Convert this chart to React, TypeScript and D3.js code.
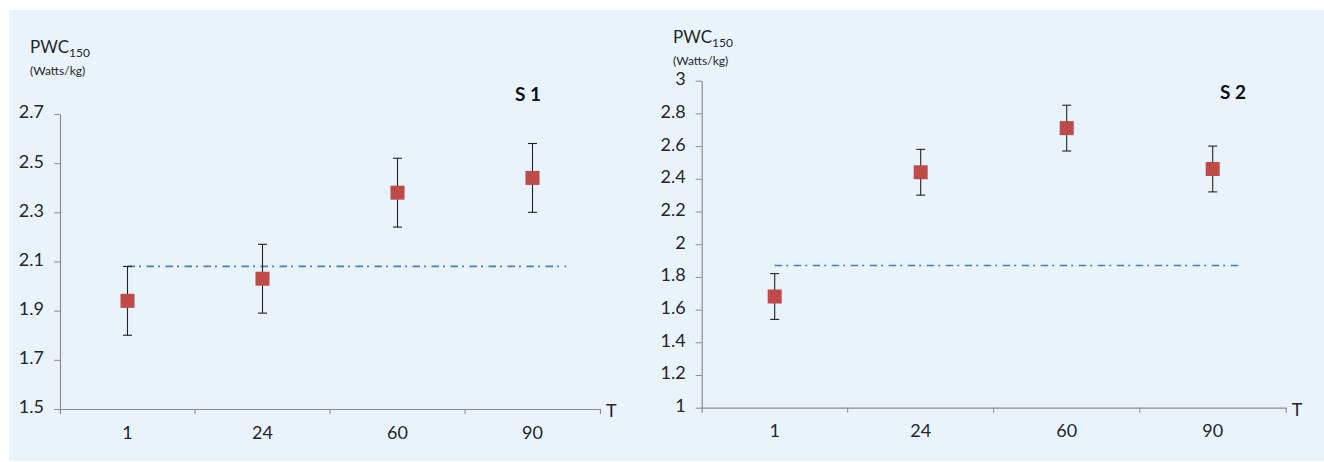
import React, { useEffect, useRef } from "react";
import * as d3 from "d3";

// time points (T) shared by both panels
const timePoints = ["1", "24", "60", "90"];

// S 1
const s1Means = [1.94, 2.03, 2.38, 2.44];
const s1Errors = [0.14, 0.14, 0.14, 0.14];
const s1Baseline = 2.08;
const s1Ticks = [1.5, 1.7, 1.9, 2.1, 2.3, 2.5, 2.7];

// S 2
const s2Means = [1.68, 2.44, 2.71, 2.46];
const s2Errors = [0.14, 0.14, 0.14, 0.14];
const s2Baseline = 1.87;
const s2Ticks = [1, 1.2, 1.4, 1.6, 1.8, 2, 2.2, 2.4, 2.6, 2.8, 3];

const FONT = "Lato, 'Open Sans', sans-serif";
const AXIS_COLOR = "#8c8c8c";
const TEXT_COLOR = "#262626";
const MARKER_COLOR = "#be4b48";
const LINE_COLOR = "#4a7ebb";

const layouts = [
  { left: 60, right: 600, top: 114, bottom: 409, lineEnd: 0.25, titleX: 528, titleY: 101, labelX: 30, labelY: 53, tickFont: 18 },
  { left: 701.7, right: 1285.7, top: 80.7, bottom: 407.7, lineEnd: 0.19, titleX: 1233, titleY: 99, labelX: 673, labelY: 43, tickFont: 18 },
];

const panels = [
  { title: "S 1", means: s1Means, errors: s1Errors, baseline: s1Baseline, ticks: s1Ticks },
  { title: "S 2", means: s2Means, errors: s2Errors, baseline: s2Baseline, ticks: s2Ticks },
];

export default function App() {
  const ref = useRef<SVGSVGElement>(null);

  useEffect(() => {
    const svg = d3.select(ref.current);
    svg.selectAll("*").remove();

    svg.append("rect")
      .attr("x", 9).attr("y", 10)
      .attr("width", 1315).attr("height", 451)
      .attr("fill", "#e9f3fb");

    panels.forEach((p, i) => {
      const L = layouts[i];
      const g = svg.append("g");

      const y = d3.scaleLinear()
        .domain([d3.min(p.ticks)!, d3.max(p.ticks)!])
        .range([L.bottom, L.top]);
      const x = d3.scaleBand().domain(timePoints).range([L.left, L.right]);
      const cx = (c: string) => x(c)! + x.bandwidth() / 2;

      // y axis
      const yAxis = g.append("g")
        .attr("transform", `translate(${L.left},0)`)
        .call(d3.axisLeft(y).tickValues(p.ticks).tickSize(6).tickSizeOuter(0).tickPadding(10).tickFormat((d) => String(d)));
      // x axis
      const xAxis = g.append("g")
        .attr("transform", `translate(0,${L.bottom})`)
        .call(d3.axisBottom(x).tickSize(0).tickSizeOuter(5).tickPadding(17));

      [yAxis, xAxis].forEach((ax) => {
        ax.select(".domain").attr("stroke", AXIS_COLOR).attr("stroke-width", 1.2);
        ax.selectAll(".tick line").attr("stroke", AXIS_COLOR);
        ax.selectAll(".tick text")
          .attr("fill", TEXT_COLOR)
          .style("font-family", FONT)
          .style("font-size", `${L.tickFont}px`);
      });
      yAxis.selectAll(".tick text").attr("dy", "0.22em");

      // boundary ticks between categories
      g.selectAll(".bound")
        .data(timePoints.slice(1))
        .enter()
        .append("line")
        .attr("x1", (d) => x(d)!).attr("x2", (d) => x(d)!)
        .attr("y1", L.bottom).attr("y2", L.bottom + 5)
        .attr("stroke", AXIS_COLOR);

      // dash-dot reference line
      const x0 = cx(timePoints[0]);
      const x1 = cx(timePoints[timePoints.length - 1]) + x.step() * L.lineEnd;
      g.append("line")
        .attr("x1", x0).attr("x2", x1)
        .attr("y1", y(p.baseline)).attr("y2", y(p.baseline))
        .attr("stroke", LINE_COLOR)
        .attr("stroke-width", 1.6)
        .attr("stroke-dasharray", "7.5,4,2,5.5");

      const data = timePoints.map((t, j) => ({ t, m: p.means[j], e: p.errors[j] }));

      // error bars
      const bars = g.selectAll(".err").data(data).enter().append("g").attr("stroke", "#222").attr("stroke-width", 1.1);
      bars.append("line")
        .attr("x1", (d) => cx(d.t)).attr("x2", (d) => cx(d.t))
        .attr("y1", (d) => y(d.m + d.e)).attr("y2", (d) => y(d.m - d.e));
      bars.append("line")
        .attr("x1", (d) => cx(d.t) - 4.5).attr("x2", (d) => cx(d.t) + 4.5)
        .attr("y1", (d) => y(d.m + d.e)).attr("y2", (d) => y(d.m + d.e));
      bars.append("line")
        .attr("x1", (d) => cx(d.t) - 4.5).attr("x2", (d) => cx(d.t) + 4.5)
        .attr("y1", (d) => y(d.m - d.e)).attr("y2", (d) => y(d.m - d.e));

      // markers
      g.selectAll(".mk").data(data).enter().append("rect")
        .attr("x", (d) => cx(d.t) - 7).attr("y", (d) => y(d.m) - 7)
        .attr("width", 14).attr("height", 14)
        .attr("fill", MARKER_COLOR);

      // axis title
      const lbl = g.append("text")
        .attr("x", L.labelX).attr("y", L.labelY)
        .attr("fill", TEXT_COLOR)
        .style("font-family", FONT)
        .style("font-size", "17px");
      lbl.append("tspan").text("PWC");
      lbl.append("tspan").attr("dy", 4).style("font-size", "12px").text("150");
      g.append("text")
        .attr("x", L.labelX).attr("y", L.labelY + 22)
        .attr("fill", TEXT_COLOR)
        .style("font-family", FONT)
        .style("font-size", "12px")
        .text("(Watts/kg)");

      // T label
      g.append("text")
        .attr("x", L.right + 6).attr("y", L.bottom + 8)
        .attr("fill", TEXT_COLOR)
        .style("font-family", FONT)
        .style("font-size", "18px")
        .text("T");

      // panel title
      g.append("text")
        .attr("x", L.titleX).attr("y", L.titleY)
        .attr("text-anchor", "middle")
        .attr("fill", "#111")
        .style("font-family", FONT)
        .style("font-weight", "bold")
        .style("font-size", "19px")
        .text(p.title);
    });
  }, []);

  return (
    <div style={{ position: "absolute", left: 0, top: 0 }}>
      <svg ref={ref} width={1324} height={462}></svg>
    </div>
  );
}
